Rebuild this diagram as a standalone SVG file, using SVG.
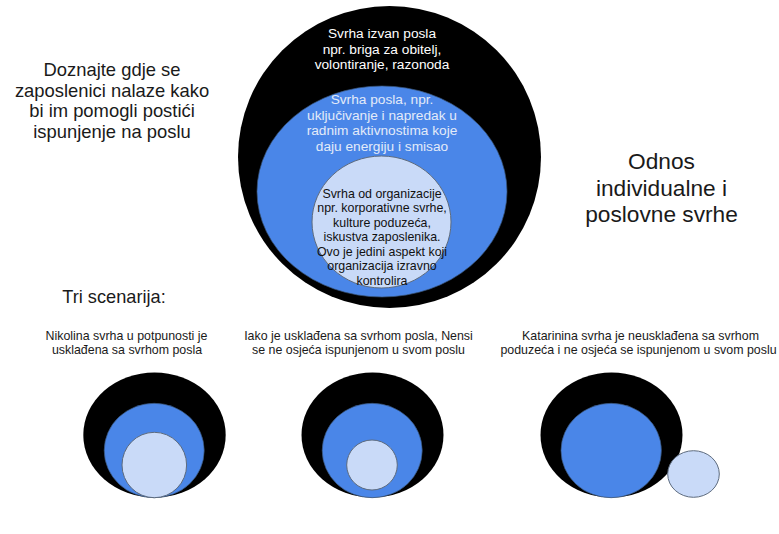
<svg xmlns="http://www.w3.org/2000/svg" width="779" height="534" viewBox="0 0 779 534">
<style>
.t{font-family:"Liberation Sans",Arial,sans-serif;text-anchor:middle}
.blk{fill:#000}
.blu{fill:#4a86e8;stroke:#3a5578;stroke-width:0.7}
.lgt{fill:#c9daf8;stroke:#5d6b7e;stroke-width:1}
.head{font-size:18.4px;fill:#1a1a1a}
.cap{font-size:12.4px;fill:#1a1a1a}
.wt{font-size:13.7px;fill:#ffffff}
.bt{font-size:13.7px;fill:#e3ebf9}
.dt{font-size:12.4px;fill:#111}
</style>
<rect width="779" height="534" fill="#fff"/>

<g id="intro-text">
<text class="t head" x="112" y="75.5">Doznajte gdje se</text>
<text class="t head" x="112" y="96.5">zaposlenici nalaze kako</text>
<text class="t head" x="112" y="117">bi im pomogli postići</text>
<text class="t head" x="112" y="138">ispunjenje na poslu</text>
</g>

<g id="title-text">
<text class="t" x="661.5" y="169" font-size="22.7" fill="#1a1a1a">Odnos</text>
<text class="t" x="661.5" y="195.5" font-size="22.7" fill="#1a1a1a">individualne i</text>
<text class="t" x="661.5" y="222" font-size="22.7" fill="#1a1a1a">poslovne svrhe</text>
</g>

<g id="main-outer">
<ellipse class="blk" cx="389.5" cy="157" rx="151.5" ry="151"/>
<text class="t wt" x="382" y="38">Svrha izvan posla</text>
<text class="t wt" x="382" y="54">npr. briga za obitelj,</text>
<text class="t wt" x="382" y="69">volontiranje, razonoda</text>
</g>

<g id="main-middle">
<ellipse class="blu" cx="382" cy="191.5" rx="125" ry="105.5"/>
<text class="t bt" x="382" y="104">Svrha posla, npr.</text>
<text class="t bt" x="382" y="119.5">uključivanje i napredak u</text>
<text class="t bt" x="382" y="135">radnim aktivnostima koje</text>
<text class="t bt" x="382" y="150.5">daju energiju i smisao</text>
</g>

<g id="main-inner">
<ellipse class="lgt" cx="381.5" cy="222" rx="69.5" ry="66"/>
<text class="t dt" x="382" y="197.5">Svrha od organizacije</text>
<text class="t dt" x="382" y="212">npr. korporativne svrhe,</text>
<text class="t dt" x="382" y="226.5">kulture poduzeća,</text>
<text class="t dt" x="382" y="241">iskustva zaposlenika.</text>
<text class="t dt" x="382" y="255.5">Ovo je jedini aspekt koji</text>
<text class="t dt" x="382" y="270">organizacija izravno</text>
<text class="t dt" x="382" y="284.5">kontrolira</text>
</g>

<g id="scenarios-label">
<text class="t" x="114" y="303" font-size="18.2" fill="#1a1a1a">Tri scenarija:</text>
</g>

<g id="scenario-1">
<text class="t cap" x="126.5" y="339.5">Nikolina svrha u potpunosti je</text>
<text class="t cap" x="127" y="353.5">usklađena sa svrhom posla</text>
<ellipse class="blk" cx="154.5" cy="435" rx="71.2" ry="62.5"/>
<ellipse class="blu" cx="154.2" cy="450.5" rx="50" ry="47.2"/>
<ellipse class="lgt" cx="154.3" cy="465" rx="32.3" ry="32.7"/>
</g>

<g id="scenario-2">
<text class="t cap" x="358.5" y="339.5">Iako je usklađena sa svrhom posla, Nensi</text>
<text class="t cap" x="358.5" y="353.5">se ne osjeća ispunjenom u svom poslu</text>
<ellipse class="blk" cx="372.5" cy="435" rx="71" ry="62.5"/>
<ellipse class="blu" cx="372.2" cy="450.5" rx="50" ry="47.2"/>
<ellipse class="lgt" cx="372" cy="465" rx="25.3" ry="25"/>
</g>

<g id="scenario-3">
<text class="t cap" x="640.5" y="339.5">Katarinina svrha je neusklađena sa svrhom</text>
<text class="t cap" x="638.5" y="353.5">poduzeća i ne osjeća se ispunjenom u svom poslu</text>
<ellipse class="blk" cx="611.5" cy="435" rx="71" ry="62.5"/>
<ellipse class="blu" cx="611.2" cy="450.5" rx="50.2" ry="47.2"/>
<ellipse class="lgt" cx="693.5" cy="474" rx="25.8" ry="23.3"/>
</g>
</svg>
